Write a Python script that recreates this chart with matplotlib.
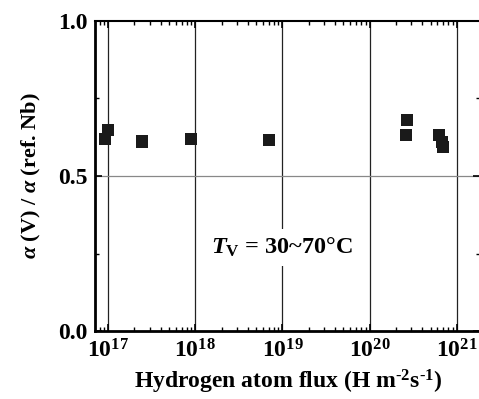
import numpy as np
import matplotlib
matplotlib.use('Agg')
import matplotlib.pyplot as plt
from matplotlib.ticker import LogLocator, FixedLocator, NullFormatter, FuncFormatter

# Serif, bold everywhere, like the journal figure
plt.rcParams['font.family'] = 'Liberation Serif'
plt.rcParams['font.weight'] = 'bold'
plt.rcParams['axes.labelweight'] = 'bold'
plt.rcParams['mathtext.fontset'] = 'custom'
plt.rcParams['mathtext.rm'] = 'Liberation Serif:bold'
plt.rcParams['mathtext.it'] = 'Liberation Serif:italic:bold'
plt.rcParams['mathtext.bf'] = 'Liberation Serif:bold'

# Data: exponent of flux and alpha ratio
log_flux = [16.96, 17.00, 17.385, 17.947, 18.85, 20.43, 20.42, 20.80, 20.83, 20.84]
alpha_ratio = [0.620, 0.648, 0.611, 0.618, 0.615, 0.680, 0.633, 0.631, 0.610, 0.594]
flux = 10.0 ** np.array(log_flux)

fig = plt.figure(figsize=(4.79, 3.99), dpi=100)
ax = fig.add_axes([0.198, 0.170, 1.003 - 0.198, 0.948 - 0.170])

ax.set_xscale('log')
ax.set_xlim(10**16.847, 10**21.272)
ax.set_ylim(0.0, 1.0)

# grid lines: decades and 0.5
for d in [17, 18, 19, 20, 21]:
    ax.axvline(10.0**d, color='#222222', lw=0.9, zorder=1)
ax.axhline(0.5, color='#888888', lw=0.9, zorder=1)

ax.scatter(flux, alpha_ratio, marker='s', s=75, color='#1a1a1a',
           edgecolors='none', zorder=3)

ax.text(1e19, 0.27, r'$T_\mathrm{V}$ = 30~70°C', fontsize=17.5,
        ha='center', va='center', zorder=2,
        bbox=dict(facecolor='white', edgecolor='none', pad=5))

ax.xaxis.set_major_locator(LogLocator(base=10, numticks=10))
ax.xaxis.set_minor_locator(LogLocator(base=10, subs=np.arange(2, 10), numticks=20))
ax.xaxis.set_minor_formatter(NullFormatter())
ax.xaxis.set_major_formatter(FuncFormatter(lambda v, p: r'$10^{%d}$' % round(np.log10(v))))
ax.yaxis.set_major_locator(FixedLocator([0.0, 0.5, 1.0]))
ax.yaxis.set_minor_locator(FixedLocator([0.25, 0.75]))
ax.yaxis.set_major_formatter(FuncFormatter(lambda v, p: '%.1f' % v))

ax.tick_params(which='both', direction='in', top=True, right=True, labelsize=17)
ax.tick_params(which='major', length=5, width=1.2)
ax.tick_params(which='minor', length=3, width=1.0)
ax.tick_params(axis='x', pad=6)
ax.tick_params(axis='y', pad=5)

for s in ['left', 'bottom']:
    ax.spines[s].set_linewidth(2.0)
ax.spines['top'].set_linewidth(1.5)
ax.spines['right'].set_linewidth(1.5)

ax.set_xlabel(r'Hydrogen atom flux (H m$^{\text{-}2}$s$^{\text{-}1}$)', fontsize=17, labelpad=4)
ax.set_ylabel(r'$\alpha$ (V) / $\alpha$ (ref. Nb)', fontsize=16, labelpad=11)

fig.savefig('out.png', dpi=100)
